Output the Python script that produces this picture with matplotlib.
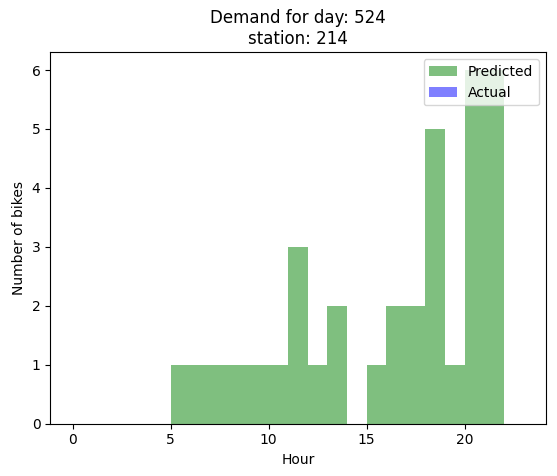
import numpy as np
import matplotlib
matplotlib.use("Agg")
import matplotlib.pyplot as plt

hours = list(range(23))
predicted = [0, 0, 0, 0, 0, 1, 1, 1, 1, 1, 1, 3, 1, 2, 0, 1, 2, 2, 5, 1, 6, 6, 0]
actual = [0] * 23

fig, ax = plt.subplots(figsize=(5.57, 4.76), dpi=100)
ax.bar(hours, predicted, width=1, align="edge", color="green", alpha=0.5, label="Predicted")
ax.bar(hours, actual, width=1, align="edge", color="blue", alpha=0.5, label="Actual")
ax.set_title("Demand for day: 524\nstation: 214")
ax.set_xlabel("Hour")
ax.set_ylabel("Number of bikes")
ax.legend(loc="upper right")
fig.subplots_adjust(left=0.09, right=0.98, bottom=0.11, top=0.89)
fig.savefig("out.png")
